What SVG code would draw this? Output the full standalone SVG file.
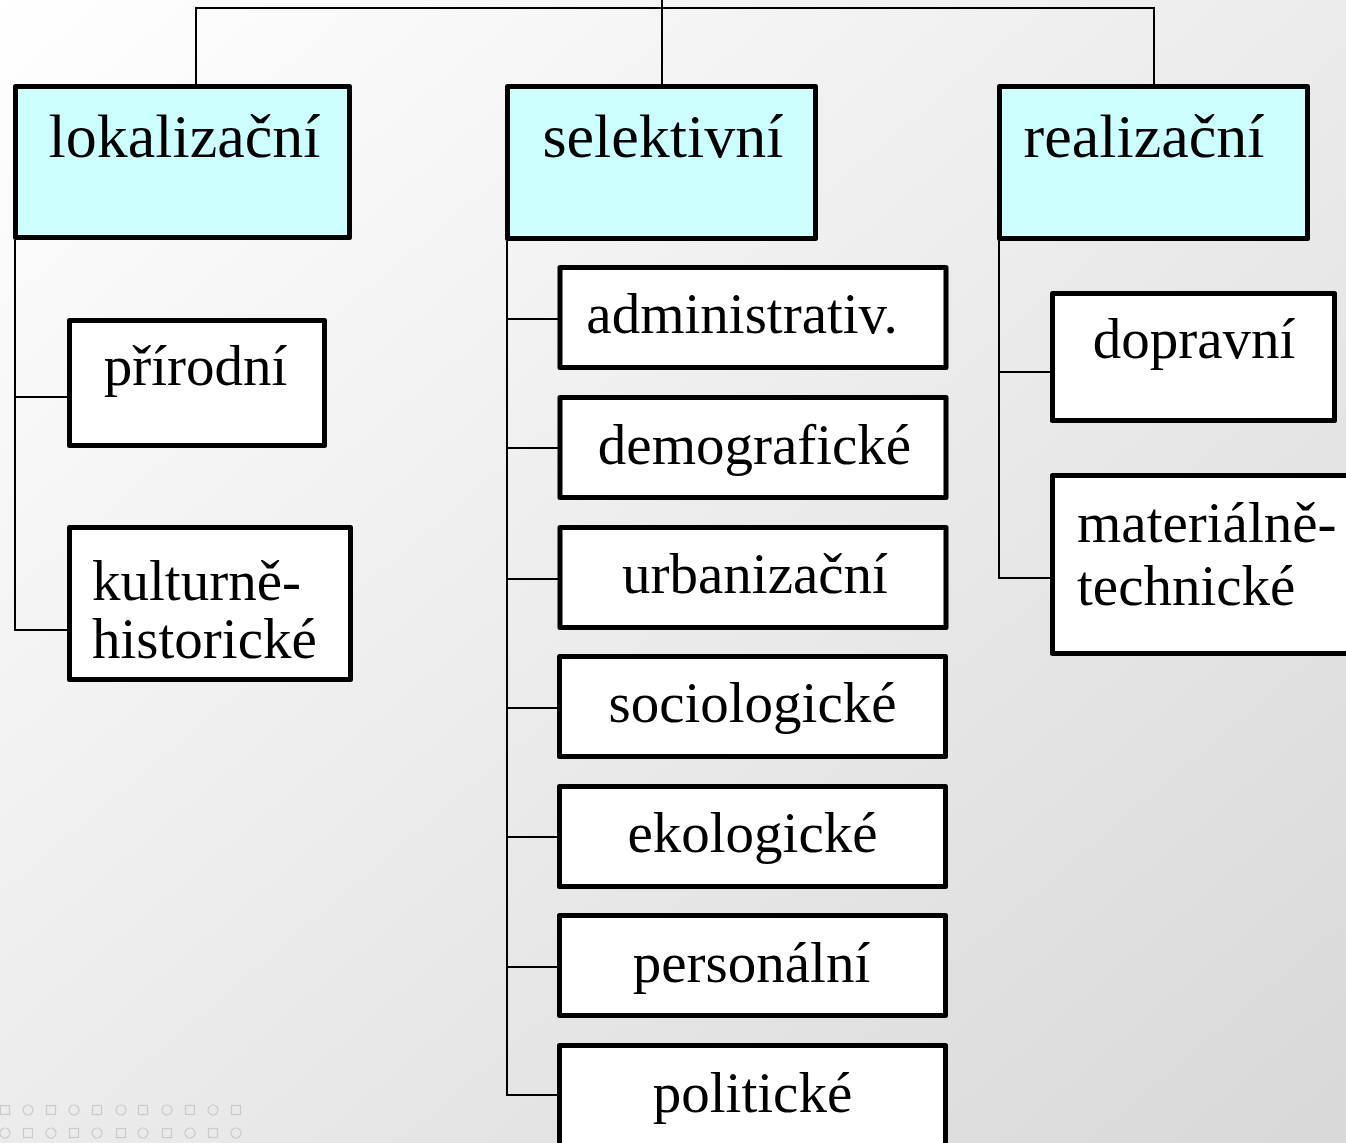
<svg xmlns="http://www.w3.org/2000/svg" width="1346" height="1143" viewBox="0 0 1346 1143">
<defs>
<linearGradient id="bg" x1="0" y1="0" x2="1" y2="1">
<stop offset="0" stop-color="#ffffff"/>
<stop offset="1" stop-color="#d8d8d8"/>
</linearGradient>
</defs>
<style>
.top{fill:#ccffff;stroke:#000;stroke-width:5;stroke-linejoin:round}
.box{fill:#ffffff;stroke:#000;stroke-width:5;stroke-linejoin:round}
.t1{font-family:"Liberation Serif","Times New Roman",serif;font-size:62px;fill:#000}
.t2{font-family:"Liberation Serif","Times New Roman",serif;font-size:57px;fill:#000}
.c{text-anchor:middle}
.conn{fill:none;stroke:#000;stroke-width:2}
.deco{fill:none;stroke:#cacaca;stroke-width:1.2}
</style>
<rect x="0" y="0" width="1346" height="1143" fill="url(#bg)"/>
<g id="decoration" class="deco">
<rect x="0.5" y="1105.5" width="9" height="9"/><circle cx="28" cy="1110" r="5"/><rect x="46.5" y="1105.5" width="9" height="9"/><circle cx="74" cy="1110" r="5"/><rect x="92.5" y="1105.5" width="9" height="9"/><circle cx="121" cy="1110" r="5"/><rect x="138.5" y="1105.5" width="9" height="9"/><circle cx="167" cy="1110" r="5"/><rect x="185.5" y="1105.5" width="9" height="9"/><circle cx="213" cy="1110" r="5"/><rect x="231.5" y="1105.5" width="9" height="9"/>
<circle cx="5" cy="1133" r="5"/><rect x="23.5" y="1128.5" width="9" height="9"/><circle cx="51" cy="1133" r="5"/><rect x="69.5" y="1128.5" width="9" height="9"/><circle cx="97" cy="1133" r="5"/><rect x="116.5" y="1128.5" width="9" height="9"/><circle cx="143" cy="1133" r="5"/><rect x="162.5" y="1128.5" width="9" height="9"/><circle cx="190" cy="1133" r="5"/><rect x="208.5" y="1128.5" width="9" height="9"/><circle cx="236" cy="1133" r="5"/>
</g>
<g id="connectors" class="conn">
<path d="M196 84 V8 H1154 V84"/>
<path d="M662 0 V84"/>
<path d="M15 240 V630 H67"/>
<path d="M15 397 H67"/>
<path d="M507 241 V1095 H557"/>
<path d="M507 319 H558 M507 448 H558 M507 579 H558 M507 708 H557 M507 837 H557 M507 967 H557"/>
<path d="M999 241 V578 H1050"/>
<path d="M999 372 H1050"/>
</g>
<g id="lokalizacni"><rect class="top" x="15.5" y="86.5" width="334" height="151"/><text class="t1 c" x="184.5" y="157">lokalizační</text></g>
<g id="selektivni"><rect class="top" x="507.5" y="86.5" width="308" height="152"/><text class="t1 c" x="663" y="157">selektivní</text></g>
<g id="realizacni"><rect class="top" x="999.5" y="86.5" width="308" height="152"/><text class="t1 c" x="1144" y="157">realizační</text></g>
<g id="prirodni"><rect class="box" x="69.5" y="320.5" width="255" height="125"/><text class="t2 c" x="195.5" y="385">přírodní</text></g>
<g id="kulturne"><rect class="box" x="69.5" y="527.5" width="281" height="152"/><text class="t2" x="92" y="600">kulturně-</text><text class="t2" x="92" y="658">historické</text></g>
<g id="administrativ"><rect class="box" x="560" y="267.5" width="386" height="100"/><text class="t2 c" x="742" y="333">administrativ.</text></g>
<g id="demograficke"><rect class="box" x="560" y="397.5" width="386" height="100"/><text class="t2 c" x="754.5" y="464">demografické</text></g>
<g id="urbanizacni"><rect class="box" x="560" y="527.5" width="386" height="100"/><text class="t2 c" x="755" y="593">urbanizační</text></g>
<g id="sociologicke"><rect class="box" x="559.5" y="656.5" width="386" height="100"/><text class="t2 c" x="752.5" y="722">sociologické</text></g>
<g id="ekologicke"><rect class="box" x="559.5" y="786.5" width="386" height="100"/><text class="t2 c" x="752.5" y="852">ekologické</text></g>
<g id="personalni"><rect class="box" x="559.5" y="915.5" width="386" height="100"/><text class="t2 c" x="751.5" y="982">personální</text></g>
<g id="politicke"><rect class="box" x="559.5" y="1045.5" width="386" height="120"/><text class="t2 c" x="752.5" y="1112">politické</text></g>
<g id="dopravni"><rect class="box" x="1052.5" y="293.5" width="282" height="127"/><text class="t2 c" x="1194" y="358">dopravní</text></g>
<g id="materialne"><rect class="box" x="1052.5" y="475.5" width="300" height="178"/><text class="t2" x="1077" y="542">materiálně-</text><text class="t2" x="1077" y="605">technické</text></g>
</svg>
